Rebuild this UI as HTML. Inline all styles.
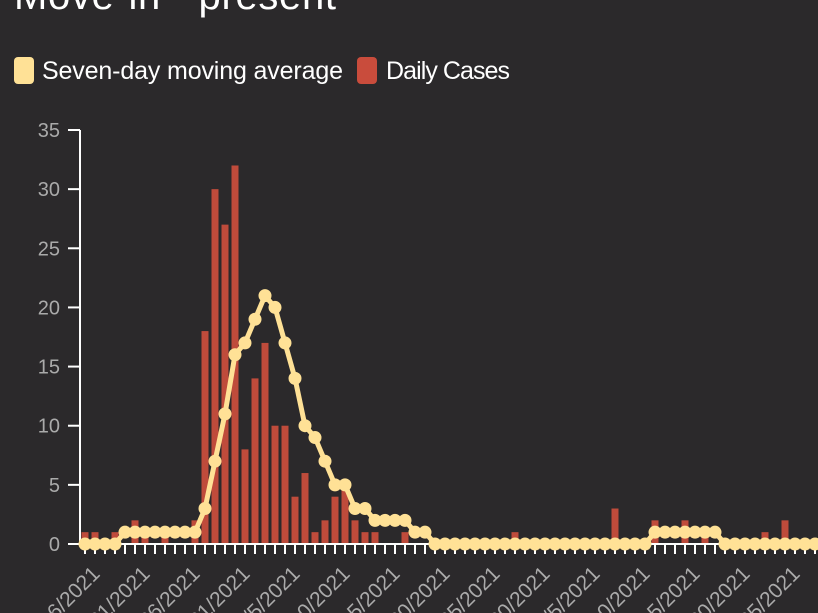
<!DOCTYPE html>
<html><head><meta charset="utf-8"><style>
html,body{margin:0;background:#2b292b;width:818px;height:613px;overflow:hidden;font-family:"Liberation Sans",sans-serif}
</style></head><body>
<svg width="818" height="613" style="position:absolute;left:0;top:0;overflow:hidden">
<text x="14" y="9" fill="#fff" font-size="40" textLength="322">Move-in - present</text>
<g>
<rect x="14" y="57" width="20" height="27" rx="4" fill="#ffe196"/>
<text x="42" y="79" fill="#fff" font-size="25" textLength="301">Seven-day moving average</text>
<rect x="357" y="57" width="20" height="27" rx="4" fill="#c94c3c"/>
<text x="386" y="79" fill="#fff" font-size="25" textLength="124">Daily Cases</text>
</g>
<g id="plot"></g>
</svg>
<script>
const daily=[1,1,0,1,0,2,1,0,1,0,0,2,18,30,27,32,8,14,17,10,10,4,6,1,2,4,5,2,1,1,0,0,1,0,0,0,0,0,0,0,0,0,0,1,0,0,0,0,0,0,0,0,0,3,0,0,0,2,0,0,2,0,1,0,0,0,0,0,1,0,2,0,0,0];
const avg=[0,0,0,0,1,1,1,1,1,1,1,1,3,7,11,16,17,19,21,20,17,14,10,9,7,5,5,3,3,2,2,2,2,1,1,0,0,0,0,0,0,0,0,0,0,0,0,0,0,0,0,0,0,0,0,0,0,1,1,1,1,1,1,1,0,0,0,0,0,0,0,0,0,0];
const yTicks=[0,5,10,15,20,25,30,35];
const xLabels=["8/16/2021","8/21/2021","8/26/2021","8/31/2021","9/5/2021","9/10/2021","9/15/2021","9/20/2021","9/25/2021","9/30/2021","10/5/2021","10/10/2021","10/15/2021","10/20/2021","10/25/2021"];
const NS="http://www.w3.org/2000/svg";
const g=document.getElementById('plot');
const X=i=>85+i*10;
const Y=v=>544-v*(414/35);
function mk(t,a){const e=document.createElementNS(NS,t);for(const k in a)e.setAttribute(k,a[k]);g.appendChild(e);return e;}
let e=mk('line',{x1:80,y1:130,x2:80,y2:544,stroke:'#fff','stroke-width':2});


yTicks.forEach(v=>{
 let t=mk('line',{x1:68,x2:80,y1:Y(v),y2:Y(v),stroke:'#fff','stroke-width':2});
 
 
 let l=mk('text',{x:60,y:Y(v)+7,fill:'#aaa','font-size':20,'text-anchor':'end'});
 l.textContent=v;
 
 
});
daily.forEach((v,i)=>{
 if(!v)return;
 let b=mk('rect',{x:X(i)-3.5,y:Y(v),width:7,height:Y(0)-Y(v),fill:'#bf4b3b'});
 
 
});
e=mk('line',{x1:80,y1:544,x2:818,y2:544,stroke:'#fff','stroke-width':2});


daily.forEach((v,i)=>{
 let t=mk('line',{x1:X(i),x2:X(i),y1:544,y2:554,stroke:'#fff','stroke-width':2});
 
 
});
xLabels.forEach((s,k)=>{
 const x=X(k*5)+16,y=575;
 let l=mk('text',{x:x,y:y,fill:'#aaa','font-size':21,'text-anchor':'end',transform:`rotate(-45 ${x} ${y})`});
 l.textContent=s;
 
 
});
let p=mk('polyline',{points:avg.map((v,i)=>X(i)+','+Y(v)).join(' '),fill:'none',stroke:'#ffe196','stroke-width':5,'stroke-linejoin':'round'});


avg.forEach((v,i)=>{
 let c=mk('circle',{cx:X(i),cy:Y(v),r:6.5,fill:'#ffe196'});
 
 
});
</script>
</body></html>
